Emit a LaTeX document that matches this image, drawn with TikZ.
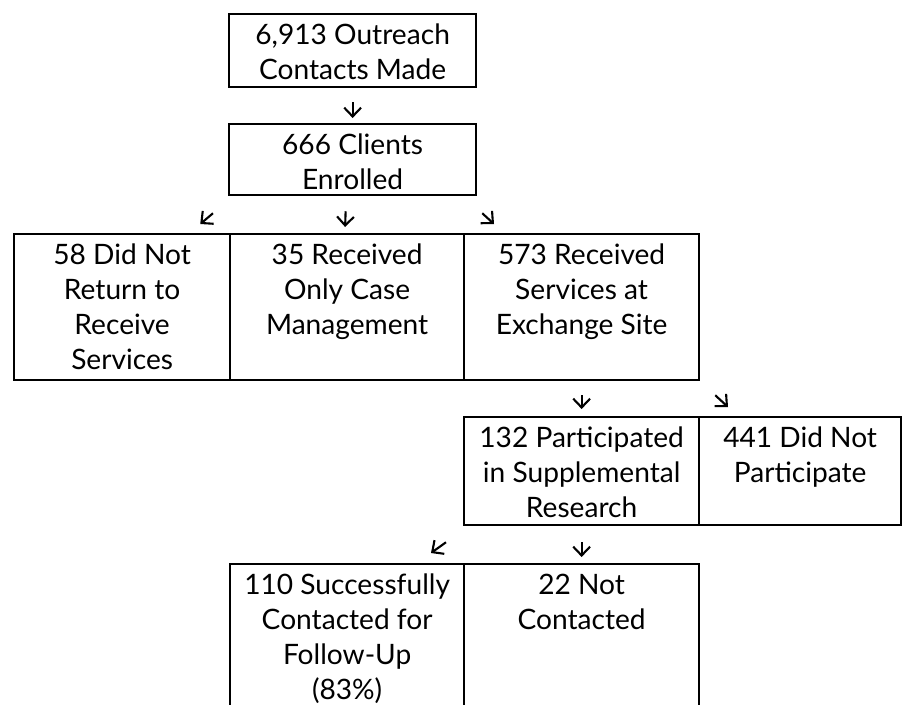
\documentclass[tikz,border=0pt]{standalone}
\usepackage{fontspec}
\setmainfont{Lato}
\usepackage{tikz}
\usetikzlibrary{arrows.meta}

% cell text, set from the top of the cell
\newcommand{\celltext}[3]{\parbox[c][#2][t]{#1}{\centering\fontsize{20pt}{0.875cm}\selectfont\rule{0pt}{0.76cm}#3}}

\begin{document}
\begin{tikzpicture}[
    cell/.style={rectangle, draw, line width=1.6pt, inner sep=0pt, anchor=north west},
    arr/.style={-{Straight Barb[length=2.2mm, width=4.2mm]}, line width=1.5pt}
]
    \clip (0,0) rectangle (22.55,-17.6);

    \node[cell] (outreach) at (5.7,-0.325) {\celltext{6.175cm}{1.825cm}{6,913 Outreach\\Contacts Made}};
    \node[cell] (enrolled) at (5.7,-3.075) {\celltext{6.175cm}{1.775cm}{666 Clients\\Enrolled}};

    \node[cell] (noreturn) at (0.325,-5.825) {\celltext{5.4cm}{3.65cm}{58 Did Not\\Return to\\Receive\\Services}};
    \node[cell] (casemgmt) at (5.725,-5.825) {\celltext{5.85cm}{3.65cm}{35 Received\\Only Case\\Management}};
    \node[cell] (exchange) at (11.575,-5.825) {\celltext{5.875cm}{3.65cm}{573 Received\\Services at\\Exchange Site}};

    \node[cell] (research) at (11.575,-10.4) {\celltext{5.875cm}{2.7cm}{132 Participated\\in Supplemental\\Research}};
    \node[cell] (notpart) at (17.45,-10.4) {\celltext{5.05cm}{2.7cm}{441 Did Not\\Participate}};

    \node[cell] (followup) at (5.725,-14.075) {\celltext{5.85cm}{4cm}{110 Successfully\\Contacted for\\Follow-Up\\(83\%)}};
    \node[cell] (notcontacted) at (11.575,-14.075) {\celltext{5.875cm}{4cm}{22 Not\\Contacted}};

    % arrows between rows
    \draw[arr] ([yshift=-0.35cm]outreach.south) -- ([yshift=0.125cm]enrolled.north);

    \draw[arr] ([shift={(-0.375,-0.425)}]enrolled.south west) -- ([shift={(-0.775,0.225)}]noreturn.north east);
    \draw[arr] ([shift={(-0.175,-0.375)}]enrolled.south) -- ([shift={(-0.05,0.15)}]casemgmt.north);
    \draw[arr] ([shift={(0.125,-0.425)}]enrolled.south east) -- ([shift={(0.775,0.225)}]exchange.north west);

    \draw[arr] ([yshift=-0.35cm]exchange.south) -- ([yshift=0.175cm]research.north);
    \draw[arr] ([shift={(0.375,-0.35)}]exchange.south east) -- ([shift={(0.75,0.225)}]notpart.north west);

    \draw[arr] ([shift={(-0.425,-0.4)}]research.south west) -- ([shift={(-0.8,0.25)}]notcontacted.north west);
    \draw[arr] ([yshift=-0.4cm]research.south) -- ([yshift=0.15cm]notcontacted.north);
\end{tikzpicture}
\end{document}
